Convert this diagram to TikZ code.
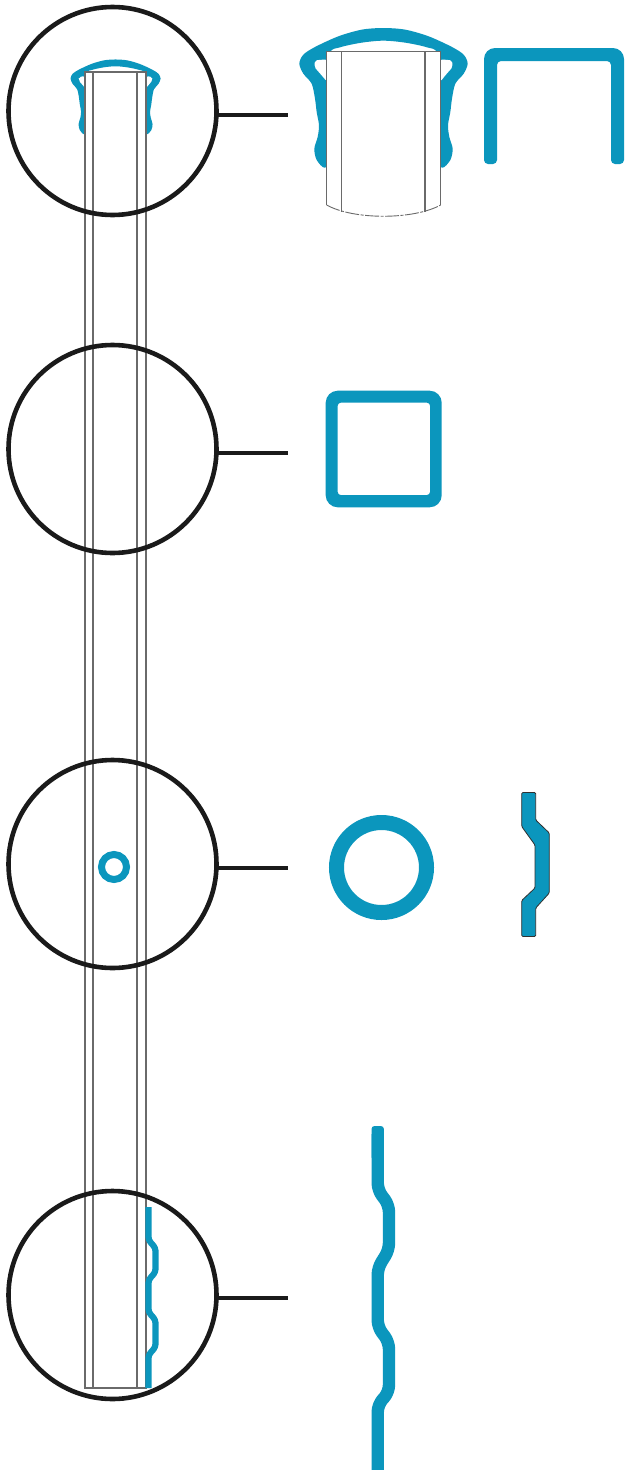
\documentclass[tikz,border=0pt]{standalone}
\usetikzlibrary{calc}
\definecolor{clipblue}{HTML}{0B96BD}
\definecolor{railgray}{HTML}{6A6A6A}
\definecolor{ringblack}{HTML}{1A1A1A}
\tikzset{
  lens/.style={circle,draw=ringblack,line width=4.6pt,minimum size=208pt,inner sep=0pt,outer sep=0pt},
  leader/.style={draw=ringblack,line width=4.4pt},
  rail/.style={draw=railgray,line width=1.7pt},
  thinrail/.style={draw=railgray,line width=1.1pt},
  profile/.style={draw=clipblue,line join=round},
  zoomframe/.style={shift={(280pt,-20pt)},x=0.33333pt,y=-0.33333pt},
  smallframe/.style={shift={(60.2pt,-55.2pt)},x=0.1783pt,y=-0.1783pt}
}
\newcommand{\capshape}{%
\fill[clipblue] plot[smooth cycle,tension=0.5] coordinates {
 (135,443) (110,420) (103,386) (113,351) (117,316) (110,276) (105,236) (95,191) (70,161) (58,131) (70,104) (105,81) (175,49) (245,29) (310,24)
 (376,29) (446,49) (516,81) (551,104) (563,131) (551,161) (526,191) (516,236) (511,276) (504,316) (508,351) (518,386) (511,420) (486,443)
 (465,400) (465,200) (471,100) (441,82) (376,68) (310,62) (245,68) (180,82) (150,100) (156,200) (156,400)};
\fill[white] (140,95) rectangle (482,450);
\fill[white,rounded corners=2pt] (105,121) -- (140,118) -- (140,184) -- (125,166) -- (103,141) -- cycle;
\fill[white,rounded corners=2pt] (516,121) -- (482,118) -- (482,184) -- (496,166) -- (518,141) -- cycle;
}
\begin{document}
\begin{tikzpicture}[x=1pt,y=-1pt]
\useasboundingbox (0,0) rectangle (624,1470);
\fill[white] (0,0) rectangle (624,1470);

% small cap on rail
\begin{scope}[smallframe]
\capshape
\end{scope}

% rail
\draw[rail] (85,72) -- (85,1388) -- (146,1388) -- (146,72) -- cycle;
\draw[rail] (93,72) -- (93,1388);
\draw[rail] (137,72) -- (137,1388);

% small ring on rail
\node[circle,draw=clipblue,line width=7pt,minimum size=25pt,inner sep=0pt] (hole) at (114,867) {};

% small wave on rail
\draw[profile,line width=6.2pt,rounded corners=3pt] (148.5,1207) -- (148.5,1240) -- (155.5,1248) -- (155.5,1272) -- (148.5,1280) -- (148.5,1312) -- (155.5,1320) -- (155.5,1347) -- (148.5,1355) -- (148.5,1388);

% lenses
\node[lens] (c1) at (112.5,111) {};
\node[lens] (c2) at (112.5,449) {};
\node[lens] (c3) at (112.5,864) {};
\node[lens] (c4) at (112.5,1295) {};

% leader ends
\coordinate (e1) at (288,115);
\coordinate (e2) at (288,453);
\coordinate (e3) at (288,868);
\coordinate (e4) at (288,1298);
\draw[leader] (c1.east |- e1) -- (e1);
\draw[leader] (c2.east |- e2) -- (e2);
\draw[leader] (c3.east |- e3) -- (e3);
\draw[leader] (c4.east |- e4) -- (e4);

% large cap (reference zoom coordinates)
\begin{scope}[zoomframe]
\capshape
\draw[thinrail] (140,555) -- (140,95) -- (482,95) -- (482,555);
\draw[thinrail] (185,95) -- (185,577);
\draw[thinrail] (435,95) -- (435,577);
\draw[railgray,line width=0.9pt,dash pattern=on 14pt off 1.5pt on 3pt off 1.5pt] (140,555) .. controls (220,600) and (400,600) .. (482,555);
\end{scope}

% staple
\fill[clipblue]
 [rounded corners=4pt] (484,164) -- (497,164)
 -- (497,61) -- (611,61) -- (611,164) -- (624,164)
 [rounded corners=11pt] -- (624,48) -- (484,48) [rounded corners=4pt] -- cycle;

% square tube
\fill[clipblue,even odd rule]
 [rounded corners=12pt] (325.7,390.7) rectangle (441.7,507.3)
 [rounded corners=3pt] (337.7,402.7) rectangle (430,495);

% round tube
\node[circle,draw=clipblue,line width=15pt,minimum size=90pt,inner sep=0pt] (tube) at (381.5,867.5) {};

% short profile
\draw[ringblack!90,fill=clipblue,line width=0.8pt,rounded corners=1.2pt]
 (521.7,792.5) -- (535.7,792.5) -- (535.7,820) -- (549.3,833) -- (549.3,893) -- (535.7,908) -- (535.7,936.5) -- (521.7,936.5) -- (521.7,900.5) -- (535,888) -- (535,845) -- (521.7,826.5) -- cycle;

% long wave
\fill[clipblue,rounded corners=3pt] (371.5,1126) rectangle (383.9,1160);
\draw[profile,line width=12.4pt,rounded corners=7pt] (377.7,1134) -- (377.7,1190) -- (389,1205) -- (389,1250) -- (377.7,1268) -- (377.7,1327) -- (389,1342) -- (389,1392) -- (377.7,1405) -- (377.7,1470);
\end{tikzpicture}
\end{document}
